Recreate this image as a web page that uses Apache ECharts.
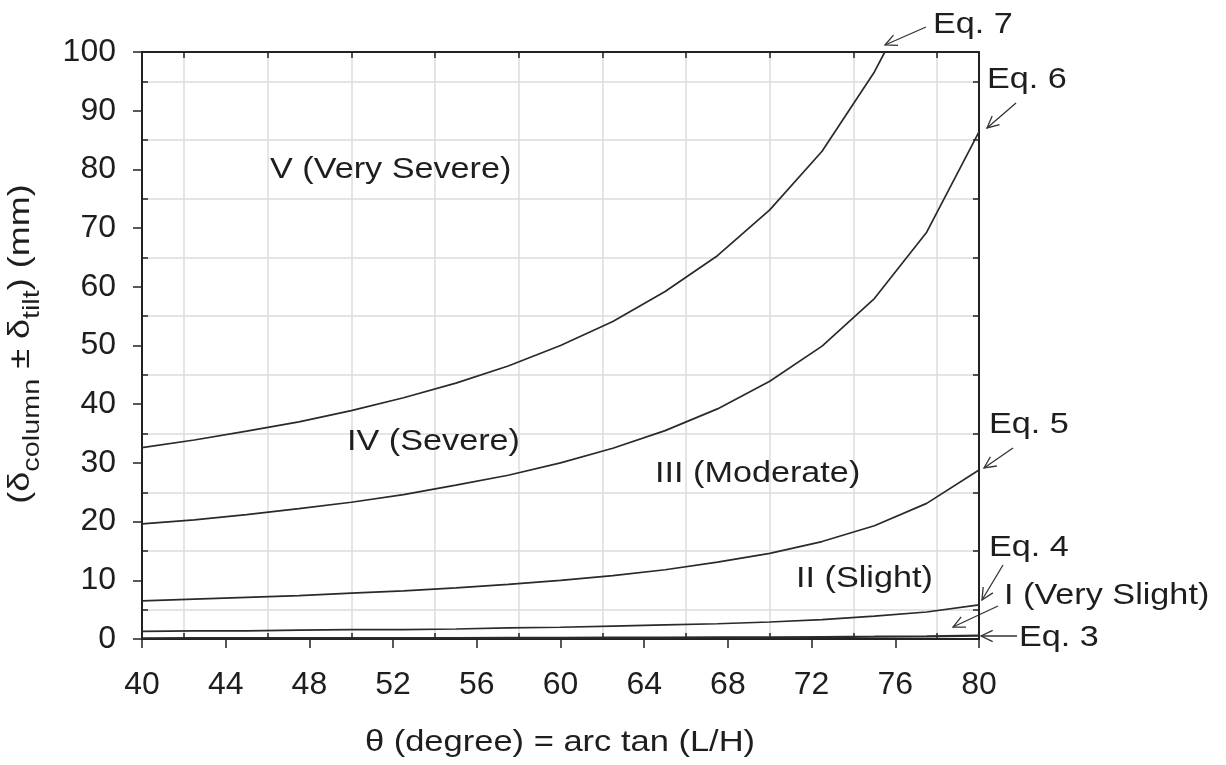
<!DOCTYPE html>
<html>
<head>
<meta charset="utf-8">
<script src="https://cdn.jsdelivr.net/npm/echarts@6/dist/echarts.min.js"></script>
<style>
html,body{margin:0;padding:0;background:#fff;}
#chart{width:1226px;height:765px;}
</style>
</head>
<body>
<div id="chart"></div>
<script>
// ---- data ----
const theta = [40, 42.5, 45, 47.5, 50, 52.5, 55, 57.5, 60, 62.5, 65, 67.5, 70, 72.5, 75, 77.5, 80];
const eq7Theta = [40, 42.5, 45, 47.5, 50, 52.5, 55, 57.5, 60, 62.5, 65, 67.5, 70, 72.5, 75, 75.5];
const eq7 = [32.6, 33.9, 35.4, 37.0, 38.9, 41.1, 43.6, 46.5, 50.0, 54.1, 59.2, 65.3, 73.1, 83.1, 96.6, 100];
const eq6 = [19.6, 20.3, 21.2, 22.2, 23.3, 24.6, 26.2, 27.9, 30.0, 32.5, 35.5, 39.2, 43.9, 49.9, 58.0, 69.3, 86.4];
const eq5 = [6.5, 6.8, 7.1, 7.4, 7.8, 8.2, 8.7, 9.3, 10.0, 10.8, 11.8, 13.1, 14.6, 16.6, 19.3, 23.1, 28.8];
const eq4 = [1.3, 1.4, 1.4, 1.5, 1.6, 1.6, 1.7, 1.9, 2.0, 2.2, 2.4, 2.6, 2.9, 3.3, 3.9, 4.6, 5.8];
const eq3 = [0.13, 0.14, 0.14, 0.15, 0.16, 0.16, 0.17, 0.19, 0.2, 0.22, 0.24, 0.26, 0.29, 0.33, 0.39, 0.46, 0.58];
const xTicks = [40, 44, 48, 52, 56, 60, 64, 68, 72, 76, 80];
const xMinorTicks = [42, 46, 50, 54, 58, 62, 66, 70, 74, 78];
const yMinorTicks = [5, 15, 25, 35, 45, 55, 65, 75, 85, 95];
const regionLabels = ['V (Very Severe)', 'IV (Severe)', 'III (Moderate)', 'II (Slight)', 'I (Very Slight)'];
const eqLabels = ['Eq. 7', 'Eq. 6', 'Eq. 5', 'Eq. 4', 'Eq. 3'];
const xTitle = 'θ (degree) = arc tan (L/H)';
const yTitle = '{p|(δ}{s|column}{p| ± δ}{s|tilt}{p|) (mm)}';

const FONT = '"Liberation Sans", Arial, Helvetica, sans-serif';
const INK = '#1e1e1e';
const GRIDC = '#dcdcdc';
const STRETCH = 1.14;

function pairs(xs, ys) { return xs.map((x, i) => [x, ys[i]]); }

const chart = echarts.init(document.getElementById('chart'), null, {renderer: 'canvas'});

function lineSeries(name, xs, ys, w) {
  return {
    name: name, type: 'line', data: pairs(xs, ys), xAxisIndex: 0, yAxisIndex: 0,
    showSymbol: false, symbol: 'none', smooth: false, clip: true, silent: true,
    lineStyle: {color: '#2a2a2a', width: w || 1.7}, z: 5
  };
}

function arrow(x1, y1, x2, y2) {
  const ang = Math.atan2(y2 - y1, x2 - x1);
  const L = 13, a = 0.45;
  const hx1 = x2 - L * Math.cos(ang - a), hy1 = y2 - L * Math.sin(ang - a);
  const hx2 = x2 - L * Math.cos(ang + a), hy2 = y2 - L * Math.sin(ang + a);
  return {
    type: 'group', silent: true, children: [
      {type: 'line', shape: {x1: x1, y1: y1, x2: x2, y2: y2}, style: {stroke: '#333', lineWidth: 1.3}},
      {type: 'polyline', shape: {points: [[hx1, hy1], [x2, y2], [hx2, hy2]]}, style: {stroke: '#333', lineWidth: 1.3, fill: null}}
    ]
  };
}

function label(txt, x, y, align) {
  return {type: 'text', x: x, y: y, scaleX: STRETCH, silent: true, z: 10,
    style: {text: txt, fill: INK, font: '30px ' + FONT, textAlign: align || 'left', textVerticalAlign: 'middle'}};
}

const option = {
  backgroundColor: '#fff',
  animation: false,
  grid: {left: 142, right: 247, top: 52, bottom: 126, containLabel: false},
  xAxis: [
    {
      type: 'value', position: 'bottom', min: 40, max: 80, interval: 4,
      axisLine: {show: true, onZero: false, lineStyle: {color: '#222', width: 2}},
      axisTick: {show: true, inside: false, length: 9, lineStyle: {color: '#222', width: 1.5}},
      axisLabel: {fontSize: 32, fontFamily: FONT, color: INK, margin: 30, customValues: xTicks},
      splitLine: {show: false}
    },
    {
      type: 'value', position: 'bottom', min: 40, max: 80, interval: 2,
      axisLine: {show: false, onZero: false},
      axisTick: {show: true, inside: true, length: 6, customValues: xMinorTicks, lineStyle: {color: '#222', width: 1.5}},
      axisLabel: {show: false},
      splitLine: {show: true, lineStyle: {color: GRIDC, width: 1.5}}
    },
    {
      type: 'value', position: 'top', min: 40, max: 80, interval: 4,
      axisLine: {show: true, onZero: false, lineStyle: {color: '#222', width: 2}},
      axisTick: {show: true, inside: true, length: 6, customValues: xMinorTicks, lineStyle: {color: '#222', width: 1.5}},
      axisLabel: {show: false},
      splitLine: {show: false}
    }
  ],
  yAxis: [
    {
      type: 'value', position: 'left', min: 0, max: 100, interval: 10,
      axisLine: {show: true, onZero: false, lineStyle: {color: '#222', width: 2}},
      axisTick: {show: true, inside: false, length: 9, lineStyle: {color: '#222', width: 1.5}},
      axisLabel: {fontSize: 32, fontFamily: FONT, color: INK, margin: 26},
      splitLine: {show: false}
    },
    {
      type: 'value', position: 'left', min: 0, max: 100, interval: 5,
      axisLine: {show: false, onZero: false},
      axisTick: {show: true, inside: true, length: 6, customValues: yMinorTicks, lineStyle: {color: '#222', width: 1.5}},
      axisLabel: {show: false},
      splitLine: {show: true, lineStyle: {color: GRIDC, width: 1.5}}
    },
    {
      type: 'value', position: 'right', min: 0, max: 100, interval: 10,
      axisLine: {show: true, onZero: false, lineStyle: {color: '#222', width: 2}},
      axisTick: {show: true, inside: true, length: 6, customValues: yMinorTicks, lineStyle: {color: '#222', width: 1.5}},
      axisLabel: {show: false},
      splitLine: {show: false}
    }
  ],
  series: [
    lineSeries(eqLabels[0], eq7Theta, eq7),
    lineSeries(eqLabels[1], theta, eq6),
    lineSeries(eqLabels[2], theta, eq5),
    lineSeries(eqLabels[3], theta, eq4),
    lineSeries(eqLabels[4], theta, eq3, 2.2)
  ],
  graphic: [
    // axis titles
    {type: 'text', x: 560, y: 743, scaleX: 1.15, silent: true,
      style: {text: xTitle, fill: INK, font: '30px ' + FONT, textAlign: 'center', textVerticalAlign: 'middle'}},
    {type: 'text', x: 27, y: 344, rotation: Math.PI / 2, scaleX: 1.2, silent: true,
      style: {text: yTitle, fill: INK, font: '30px ' + FONT, textAlign: 'center', textVerticalAlign: 'middle',
        rich: {
          p: {fontSize: 30, fontFamily: FONT, fill: INK, lineHeight: 34, padding: [0, 0, 8, 0], verticalAlign: 'bottom'},
          s: {fontSize: 24, fontFamily: FONT, fill: INK, lineHeight: 26, verticalAlign: 'bottom'}
        }}},
    label(regionLabels[0], 270, 170),
    label(regionLabels[1], 347, 442),
    label(regionLabels[2], 655, 474),
    label(regionLabels[3], 796, 579),
    label(regionLabels[4], 1004, 596),
    label(eqLabels[0], 933, 25),
    label(eqLabels[1], 987, 80),
    label(eqLabels[2], 989, 425),
    label(eqLabels[3], 989, 548),
    label(eqLabels[4], 1019, 638),
    arrow(926, 27, 885, 45),
    arrow(1016, 103, 987, 128),
    arrow(1013, 448, 984, 468),
    arrow(1003, 565, 982, 600),
    arrow(998, 606, 953, 627),
    arrow(1017, 636, 981, 636)
  ]
};
chart.setOption(option);
</script>
</body>
</html>
